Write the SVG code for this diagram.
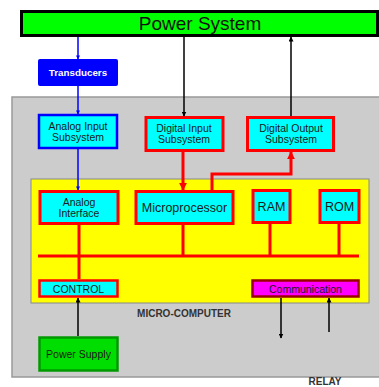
<svg xmlns="http://www.w3.org/2000/svg" width="379" height="387" viewBox="0 0 379 387">
<defs>
<marker id="ab" viewBox="0 0 10 10" refX="9" refY="5" markerWidth="4" markerHeight="4" orient="auto-start-reverse" markerUnits="userSpaceOnUse"><path d="M0,0 L10,5 L0,10 z" fill="#0000ff"/></marker>
<marker id="ak" viewBox="0 0 10 10" refX="9" refY="5" markerWidth="5" markerHeight="5" orient="auto-start-reverse" markerUnits="userSpaceOnUse"><path d="M0,0 L10,5 L0,10 z" fill="#000"/></marker>
<marker id="ar" viewBox="0 0 10 10" refX="9" refY="5" markerWidth="8" markerHeight="8" orient="auto-start-reverse" markerUnits="userSpaceOnUse"><path d="M0,0 L10,5 L0,10 z" fill="#ff0000"/></marker>
</defs>
<style>
text{font-family:"Liberation Sans",Arial,sans-serif;text-anchor:middle;dominant-baseline:central}
.cy{fill:#00ffff}
.rb{stroke:#ff0000;stroke-width:3}
.t9{font-size:10.5px;fill:#1a1a1a}
.t10{font-size:12.5px;fill:#1a1a1a}
.bl{fill:none;stroke:#0000ff;stroke-width:1.5}
.bk{fill:none;stroke:#000;stroke-width:1.5}
.rd{fill:none;stroke:#ff0000;stroke-width:3}
.bold{font-weight:bold;font-size:10px;fill:#333}
</style>
<rect x="0" y="0" width="379" height="387" fill="#fff"/>
<g id="relay-frame">
<rect x="12" y="97" width="370" height="280" fill="#cccccc" stroke="#999" stroke-width="1.5"/>
</g>
<g id="micro-computer">
<rect x="31" y="179" width="338" height="124" fill="#ffff00" stroke="#888" stroke-width="1"/>
</g>
<g id="power-system">
<rect x="21.5" y="11.5" width="356" height="24" fill="#00ff00" stroke="#000" stroke-width="3"/>
<text x="200" y="23.5" style="font-size:19px" fill="#111">Power System</text>
</g>
<g id="transducers">
<rect x="38" y="59" width="80" height="27" rx="2" fill="#0000ff"/>
<text x="78" y="72.5" style="font-size:9.8px;font-weight:bold" fill="#fff">Transducers</text>
</g>
<g id="analog-input">
<rect x="39" y="115" width="78" height="33" class="cy" stroke="#0000ff" stroke-width="2.5"/>
<text x="78" y="125.5" class="t9">Analog Input</text>
<text x="78" y="136.5" class="t9">Subsystem</text>
</g>
<g id="digital-input">
<rect x="146" y="117.5" width="77" height="33" class="cy rb"/>
<text x="184" y="128" class="t9">Digital Input</text>
<text x="184" y="139" class="t9">Subsystem</text>
</g>
<g id="digital-output">
<rect x="247.5" y="117.5" width="86" height="33" class="cy rb"/>
<text x="291" y="128" class="t9">Digital Output</text>
<text x="291" y="139" class="t9">Subsystem</text>
</g>
<g id="analog-interface">
<rect x="40" y="191.5" width="78" height="32" class="cy rb"/>
<text x="79" y="201.5" class="t9">Analog</text>
<text x="79" y="212.5" class="t9">Interface</text>
</g>
<g id="microprocessor">
<rect x="136" y="191.5" width="97" height="32" class="cy rb"/>
<text x="184.5" y="207.5" class="t10">Microprocessor</text>
</g>
<g id="ram">
<rect x="253" y="190.5" width="37" height="32" class="cy rb"/>
<text x="271.5" y="206.5" class="t10">RAM</text>
</g>
<g id="rom">
<rect x="320" y="190.5" width="39" height="32" class="cy rb"/>
<text x="339.5" y="206.5" class="t10">ROM</text>
</g>
<g id="control">
<rect x="39.5" y="280.5" width="78" height="16" class="cy" stroke="#ff0000" stroke-width="2.5"/>
<text x="78.5" y="288.5" class="t9">CONTROL</text>
</g>
<g id="communication">
<rect x="252.5" y="280.5" width="106" height="16" fill="#ff00ff" stroke="#990000" stroke-width="2.5"/>
<text x="305.5" y="288.5" class="t9">Communication</text>
</g>
<g id="power-supply">
<rect x="39.5" y="337.5" width="78" height="33" fill="#00dd00" stroke="#009900" stroke-width="2.5"/>
<text x="78.5" y="353.5" class="t9">Power Supply</text>
</g>
<g id="labels">
<text x="184" y="313.5" class="bold">MICRO-COMPUTER</text>
<text x="325" y="381.5" class="bold" style="font-size:10px">RELAY</text>
</g>
<g id="connectors">
<line x1="78" y1="37" x2="78" y2="59" class="bl" marker-end="url(#ab)"/>
<line x1="78" y1="86" x2="78" y2="114" class="bl" marker-end="url(#ab)"/>
<line x1="78" y1="149" x2="78" y2="190" class="bl" marker-end="url(#ab)"/>
<line x1="184" y1="37" x2="184" y2="116" class="bk" marker-end="url(#ak)"/>
<line x1="291" y1="116" x2="291" y2="37" class="bk" marker-end="url(#ak)"/>
<line x1="183" y1="152" x2="183" y2="190" class="rd" marker-end="url(#ar)"/>
<polyline points="212,190 212,174 291,174 291,152" class="rd" marker-end="url(#ar)"/>
<line x1="79" y1="225" x2="79" y2="279" class="rd" stroke-width="2.5"/>
<line x1="183" y1="225" x2="183" y2="256" class="rd" stroke-width="2.5"/>
<line x1="270" y1="224" x2="270" y2="256" class="rd" stroke-width="2.5"/>
<line x1="339" y1="224" x2="339" y2="256" class="rd" stroke-width="2.5"/>
<line x1="38" y1="256" x2="359" y2="256" class="rd" stroke-width="2.5"/>
<line x1="78" y1="336" x2="78" y2="298" class="bk" marker-end="url(#ak)"/>
<line x1="281" y1="298" x2="281" y2="338" class="bk" marker-end="url(#ak)"/>
<line x1="329" y1="332" x2="329" y2="298" class="bk" marker-end="url(#ak)"/>
</g>
</svg>
